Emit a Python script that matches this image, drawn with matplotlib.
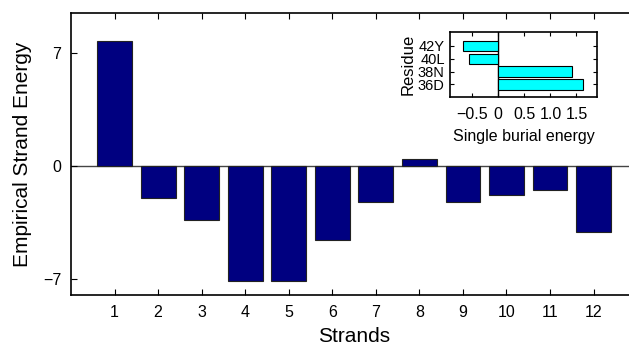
import matplotlib.pyplot as plt
import numpy as np

plt.rcParams['font.family'] = ['Liberation Sans', 'DejaVu Sans']

strands = np.arange(1, 13)
energy = [7.75, -1.95, -3.35, -7.15, -7.13, -4.6, -2.2, 0.45, -2.25, -1.82, -1.5, -4.07]

residues = ['36D', '38N', '40L', '42Y']
burial = [1.63, 1.42, -0.56, -0.68]

fig = plt.figure(figsize=(6.29, 3.5), dpi=100)
ax = fig.add_axes([0.1129, 0.1571, 0.900, 0.8057])
ax.bar(strands, energy, width=0.8, color='#000080', edgecolor='#222222', linewidth=0.8, zorder=2)
ax.axhline(0, color='#444444', linewidth=1.0, zorder=1)
ax.set_xlim(0, 13)
ax.set_ylim(-8, 9.5)
ax.set_xticks(strands)
ax.set_yticks([-7, 0, 7])
ax.tick_params(direction='in', top=True, right=True, labelsize=11.5, length=4, pad=7)
ax.set_xlabel('Strands', fontsize=15, labelpad=5)
ax.set_ylabel('Empirical Strand Energy', fontsize=15, labelpad=8)
for s in ax.spines.values():
    s.set_linewidth(1.2)

ins = fig.add_axes([0.716, 0.722, 0.2328, 0.1874])
ins.barh(np.arange(1, 5), burial, height=0.8, color='#00FFFF', edgecolor='black', linewidth=0.8, zorder=2)
ins.axvline(0, color='black', linewidth=1.0, zorder=1)
ins.set_xlim(-0.92, 1.89)
ins.set_ylim(0, 5.1)
ins.set_xticks([-0.5, 0, 0.5, 1.0, 1.5])
ins.set_xticklabels(['\u22120.5', '0', '0.5', '1.0', '1.5'])
ins.set_yticks(np.arange(1, 5))
ins.set_yticklabels(residues)
ins.tick_params(direction='in', top=True, right=True, labelsize=11.5, length=3, pad=7)
ins.tick_params(axis='y', labelsize=10.5, pad=4)
ins.set_xlabel('Single burial energy', fontsize=11.5, labelpad=5)
ins.set_ylabel('Residue', fontsize=12, labelpad=2)
for s in ins.spines.values():
    s.set_linewidth(1.2)

fig.savefig('out.png', dpi=100)
